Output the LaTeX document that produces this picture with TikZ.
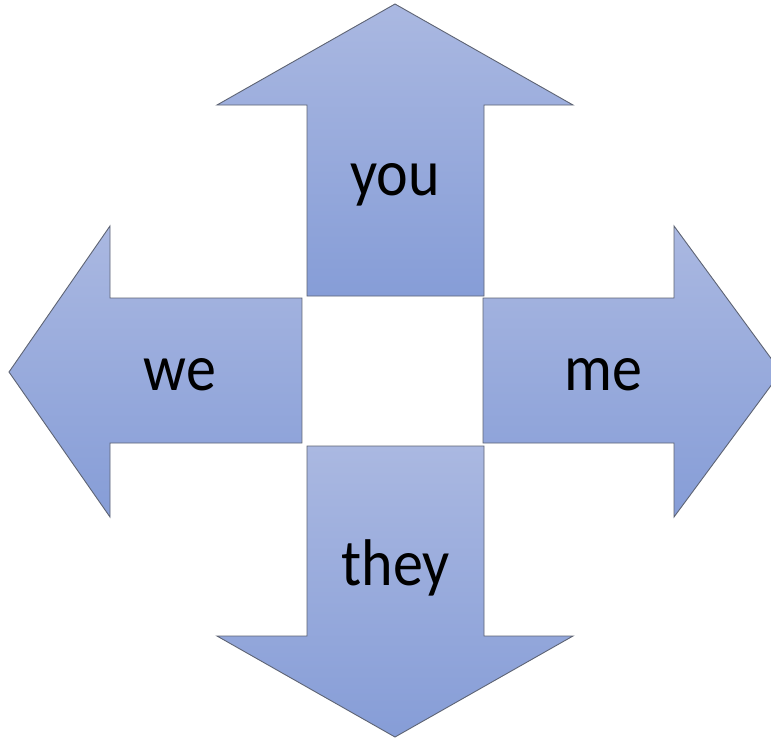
\documentclass[tikz,border=0pt]{standalone}
\usepackage{fontspec}
\setmainfont{Carlito}
\definecolor{arTop}{HTML}{AAB8E1}
\definecolor{arBot}{HTML}{869DD7}
\definecolor{arLine}{HTML}{5E6474}
\tikzset{
  arrowshape/.style={top color=arTop, bottom color=arBot, draw=arLine, line width=0.9pt, line join=miter},
  lbl/.style={anchor=base, inner sep=0pt, font=\fontsize{60}{60}\selectfont}
}
\newcommand{\tallword}[1]{\scalebox{1}[1.1]{#1}}
\begin{document}
\begin{tikzpicture}[x=1pt,y=-1pt]
\useasboundingbox (0,0) rectangle (771,739);
\clip (0,0) rectangle (771,739);
\fill[white] (0,0) rectangle (771,739);
% up arrow
\shade[arrowshape] (395,4) -- (573,105) -- (484,105) -- (484,296) -- (307,296) -- (307,105) -- (217,105) -- cycle;
% down arrow
\shade[arrowshape] (395,737) -- (573,636) -- (484,636) -- (484,446) -- (307,446) -- (307,636) -- (217,636) -- cycle;
% left arrow
\shade[arrowshape] (9,372) -- (110,226) -- (110,298) -- (302,298) -- (302,443) -- (110,443) -- (110,517) -- cycle;
% right arrow
\shade[arrowshape] (781,372) -- (674,226) -- (674,298) -- (483,298) -- (483,443) -- (674,443) -- (674,517) -- cycle;
\node[lbl] (you) at (395,195) {\tallword{you}};
\node[lbl] (we) at (180,390) {\tallword{we}};
\node[lbl] (me) at (603,390) {\tallword{me}};
\node[lbl] (they) at (396,585) {\tallword{they}};
\end{tikzpicture}
\end{document}
